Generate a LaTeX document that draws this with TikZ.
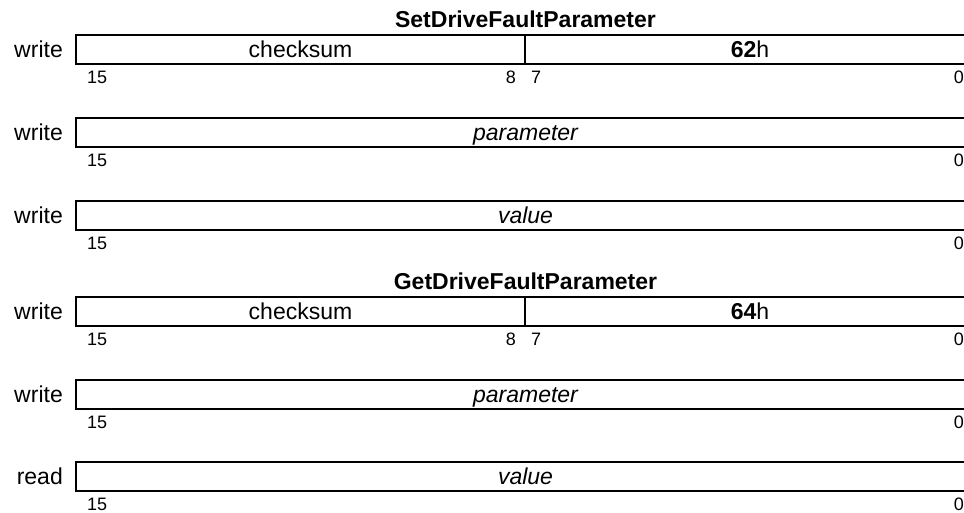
\documentclass[tikz,border=0pt]{standalone}
\usepackage{fontspec}
\setmainfont{Liberation Sans}
\begin{document}
\begin{tikzpicture}[x=1pt,y=-1pt,
  lbl/.style={inner sep=0pt,anchor=base,font=\fontsize{23}{27}\selectfont},
  bitnum/.style={inner sep=0pt,font=\fontsize{18}{21}\selectfont},
  frame/.style={line width=2pt},
  divider/.style={line width=1.6pt}]
\useasboundingbox (0,0) rectangle (964,512);
% titles
\node[lbl,font=\fontsize{23}{27}\selectfont\bfseries] (t1) at (525.5,27) {SetDriveFaultParameter};
\node[lbl,font=\fontsize{23}{27}\selectfont\bfseries] (t2) at (525.5,289) {GetDriveFaultParameter};
% rows: top y values
\foreach \nm/\ty/\mode in {r1/35/write,r2/118/write,r3/201/write,r4/297/write,r5/380/write,r6/462/read}{
  \coordinate (\nm tl) at (76,\ty);
  \coordinate (\nm bl) at (76,\ty+29);
  \coordinate (\nm tr) at (975,\ty);
  \coordinate (\nm br) at (975,\ty+29);
  \draw[frame] (\nm tr) -- (\nm tl) -- (\nm bl) -- (\nm br);
  \node[lbl,anchor=base east] (\nm mode) at (63,\ty+22) {\mode};
  \node[bitnum,anchor=base west] (\nm hi) at (87,\ty+48) {15};
  \node[bitnum,anchor=base east] (\nm lo) at (964,\ty+48) {0};
}
% split rows
\foreach \nm/\ty/\code in {r1/35/62,r4/297/64}{
  \coordinate (\nm dt) at (525,\ty);
  \coordinate (\nm db) at (525,\ty+29);
  \draw[divider] (\nm dt) -- (\nm db);
  \node[lbl] (\nm cs) at (300.5,\ty+22) {checksum};
  \node[lbl] (\nm code) at (750,\ty+22) {\textbf{\code}h};
  \node[bitnum,anchor=base east] (\nm b8) at (516,\ty+48) {8};
  \node[bitnum,anchor=base west] (\nm b7) at (531,\ty+48) {7};
}
% full rows
\node[lbl] (r2txt) at (525.5,118+22) {\itshape parameter};
\node[lbl] (r3txt) at (525.5,201+22) {\itshape value};
\node[lbl] (r5txt) at (525.5,380+22) {\itshape parameter};
\node[lbl] (r6txt) at (525.5,462+22) {\itshape value};
\end{tikzpicture}
\end{document}
